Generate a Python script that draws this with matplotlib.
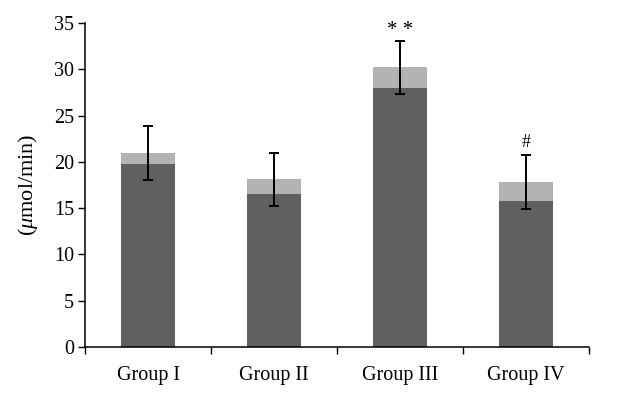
import matplotlib
matplotlib.use("Agg")
import matplotlib.pyplot as plt
import numpy as np

# values
groups = ["Group I", "Group II", "Group III", "Group IV"]
base = [19.75, 16.5, 27.95, 15.8]      # dark part
total = [20.95, 18.1, 30.2, 17.8]     # top of light part
err = [2.9, 2.9, 2.9, 2.9]
marks = ["", "", "**", "#"]

plt.rcParams["font.family"] = ["Liberation Serif", "DejaVu Serif"]
plt.rcParams["mathtext.fontset"] = "custom"
plt.rcParams["mathtext.it"] = "Liberation Serif:italic"
plt.rcParams["mathtext.rm"] = "Liberation Serif"

fig = plt.figure(figsize=(6.44, 4.0), dpi=100)
ax = fig.add_axes([0.132, 0.1325, 0.783, 0.81])

x = np.arange(len(groups))
top = np.array(total) - np.array(base)
w = 0.43
ax.bar(x, base, width=w, color="#606060", zorder=2)
ax.bar(x, top, bottom=base, width=w, color="#b3b3b3", zorder=2)
ax.errorbar(x, total, yerr=err, fmt="none", ecolor="black", elinewidth=1.4,
            capsize=3.5, capthick=1.4, zorder=3)

for xi, t, e, m in zip(x, total, err, marks):
    if m == "**":
        ax.text(xi, t + e + 0.1, "* *", ha="center", va="bottom", fontsize=15)
    elif m:
        ax.text(xi, t + e + 0.5, m, ha="center", va="bottom", fontsize=13)

ax.set_xlim(-0.5, len(groups) - 0.5)
ax.set_ylim(0, 35)
ax.set_yticks(range(0, 36, 5))
ax.set_xticks(np.arange(-0.5, len(groups), 1.0))
ax.set_xticklabels([])
ax.set_xticks(x, minor=True)
ax.set_xticklabels(groups, minor=True, fontsize=14.5)
ax.tick_params(axis="x", which="major", direction="out", length=5, width=1)
ax.tick_params(axis="x", which="minor", length=0, pad=14)
ax.tick_params(axis="y", direction="out", length=5, width=1, labelsize=14.5, pad=3)

ax.set_ylabel(r"($\mu$mol/min)", fontsize=16, labelpad=10)

for side in ["top", "right"]:
    ax.spines[side].set_visible(False)
for side in ["left", "bottom"]:
    ax.spines[side].set_linewidth(1.1)

fig.savefig("out.png", dpi=100)
